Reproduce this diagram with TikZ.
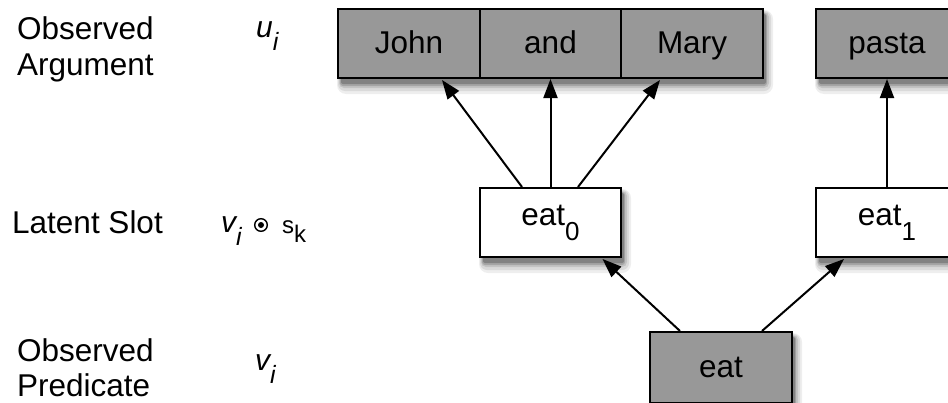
\documentclass[tikz,border=0pt]{standalone}
\usepackage{fontspec}
\setmainfont{Liberation Sans}
\usetikzlibrary{arrows.meta,calc}
\definecolor{boxgray}{RGB}{152,152,152}
\definecolor{shA}{RGB}{238,238,238}
\definecolor{shB}{RGB}{218,218,218}
\definecolor{shC}{RGB}{195,195,195}
\definecolor{shD}{RGB}{165,165,165}
\definecolor{shE}{RGB}{130,130,130}
\newcommand{\fsz}[1]{\fontsize{#1}{#1}\selectfont}
\begin{document}
\begin{tikzpicture}[x=1pt,y=-1pt,
  lbl/.style={anchor=base west, inner sep=0pt, font=\fsz{31.5}},
  mth/.style={anchor=base west, inner sep=0pt, font=\fsz{30}\itshape},
  wbox/.style={draw=black, line width=2pt, fill=white, minimum width=141.7pt, minimum height=69pt, inner sep=0pt,
    font=\fsz{31.5}, text height=23pt, text depth=4pt},
  gbox/.style={wbox, fill=boxgray},
  arr/.style={line width=2pt, -{Triangle[length=19pt, width=14pt]}}
]
\useasboundingbox (0,0) rectangle (948,402);

% soft shadows, drawn first so that the boxes cover them
\fill[shA, rounded corners=9pt] (337,10) rectangle (773,94);
\fill[shB, rounded corners=7pt] (338,11) rectangle (771,91);
\fill[shC, rounded corners=5pt] (339,12) rectangle (769,88);
\fill[shD, rounded corners=3pt] (340,13) rectangle (767,86);
\fill[shE, rounded corners=2pt] (341,14) rectangle (766,84);

\fill[shA, rounded corners=9pt] (815,10) rectangle (968,94);
\fill[shB, rounded corners=7pt] (816,11) rectangle (966,91);
\fill[shC, rounded corners=5pt] (817,12) rectangle (964,88);
\fill[shD, rounded corners=3pt] (818,13) rectangle (962,86);
\fill[shE, rounded corners=2pt] (819,14) rectangle (961,84);

\fill[shA, rounded corners=9pt] (479,189) rectangle (631,273);
\fill[shB, rounded corners=7pt] (480,190) rectangle (629,270);
\fill[shC, rounded corners=5pt] (481,191) rectangle (627,267);
\fill[shD, rounded corners=3pt] (482,192) rectangle (625,265);
\fill[shE, rounded corners=2pt] (483,193) rectangle (624,263);

\fill[shA, rounded corners=9pt] (815,189) rectangle (968,273);
\fill[shB, rounded corners=7pt] (816,190) rectangle (966,270);
\fill[shC, rounded corners=5pt] (817,191) rectangle (964,267);
\fill[shD, rounded corners=3pt] (818,192) rectangle (962,265);
\fill[shE, rounded corners=2pt] (819,193) rectangle (961,263);

\fill[shA, rounded corners=9pt] (649,333) rectangle (802,420);
\fill[shB, rounded corners=7pt] (650,334) rectangle (800,418);
\fill[shC, rounded corners=5pt] (651,335) rectangle (798,416);
\fill[shD, rounded corners=3pt] (652,336) rectangle (796,414);
\fill[shE, rounded corners=2pt] (653,337) rectangle (795,412);

% row labels
\node[lbl] (oa1) at (17,39) {Observed};
\node[lbl] (oa2) at (17,75) {Argument};
\node[lbl] (ls)  at (12,233) {Latent Slot};
\node[lbl] (op1) at (17,361) {Observed};
\node[lbl] (op2) at (17,396) {Predicate};

% math labels
\node[mth] (ui) at (256,37) {u\raisebox{-13pt}{\fsz{25}i}};
\node[mth] (vs) at (221,232) {v\raisebox{-13pt}{\fsz{25}i}};
\coordinate (odot) at (261,225);
\draw[line width=1.4pt] (odot) circle[radius=6.3pt];
\fill (odot) circle[radius=3pt];
\node[anchor=base west, inner sep=0pt, font=\fsz{24}] (sk) at (282,233) {s\raisebox{-9pt}{\fsz{24}k}};
\node[mth] (vi) at (255,370) {v\raisebox{-13pt}{\fsz{25}i}};

% observed arguments
\node[gbox] (john) at (409,43.5) {John};
\node[gbox] (and)  at (550.5,43.5) {and};
\node[gbox] (mary) at (692,43.5) {Mary};
\node[gbox] (pasta) at (887,43.5) {pasta};

% latent slots
\node[wbox, text depth=18pt] (eat0) at (550.5,222.5) {eat\raisebox{-15pt}{\fsz{26}0}};
\node[wbox, text depth=18pt] (eat1) at (887,222.5) {eat\raisebox{-15pt}{\fsz{26}1}};

% observed predicate
\node[gbox, minimum height=71pt] (eat) at (721,367.5) {eat};

% connectors
\draw[arr] ($(eat0.north)+(-28.5,0)$) -- ($(john.south)+(33,1)$);
\draw[arr] (eat0.north) -- (and.south);
\draw[arr] ($(eat0.north)+(27.5,0)$) -- ($(mary.south)+(-32,1)$);
\draw[arr] (eat1.north) -- (pasta.south);
\draw[arr] ($(eat.north)+(-41,0)$) -- ($(eat0.south)+(52,1)$);
\draw[arr] ($(eat.north)+(41,0)$) -- ($(eat1.south)+(-43,1)$);
\end{tikzpicture}
\end{document}
